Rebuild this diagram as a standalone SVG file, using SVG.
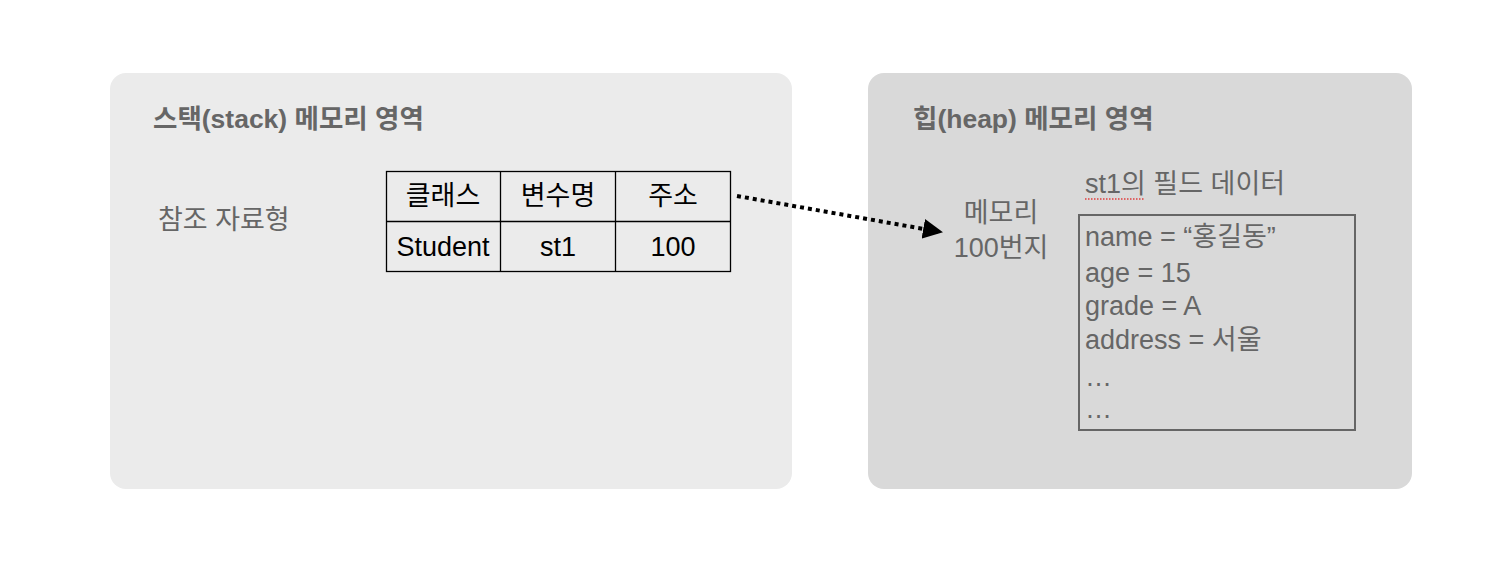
<svg xmlns="http://www.w3.org/2000/svg" width="1512" height="562" viewBox="0 0 1512 562">
<defs>
<style>
text{font-family:"Liberation Sans","Noto Sans CJK KR",sans-serif;font-size:27px}
.g{fill:#666666}
.t{font-weight:bold;fill:#666666;font-size:26.5px}
.k{fill:#000000}
.c{text-anchor:middle}
.cell{fill:none;stroke:#000000;stroke-width:1.3}
</style>
<marker id="ah" viewBox="0 0 10 10" refX="9" refY="5" markerWidth="5" markerHeight="5" orient="auto" markerUnits="strokeWidth">
<path d="M0,0 L10,5 L0,10 Z" fill="#000000"/>
</marker>
</defs>
<rect width="1512" height="562" fill="#ffffff"/>
<g id="stack">
<rect x="110" y="73" width="682" height="416" rx="16" fill="#ebebeb"/>
<text class="t" x="153" y="128">스택(stack) 메모리 영역</text>
<text class="g" x="158" y="229" font-size="26.5">참조 자료형</text>
</g>
<g id="table">
<rect class="cell" x="386.5" y="171.5" width="344" height="100"/>
<line class="cell" x1="386.5" y1="221.5" x2="730.5" y2="221.5"/>
<line class="cell" x1="500.5" y1="171.5" x2="500.5" y2="271.5"/>
<line class="cell" x1="615.5" y1="171.5" x2="615.5" y2="271.5"/>
<text class="k c" x="443" y="205">클래스</text>
<text class="k c" x="558" y="205">변수명</text>
<text class="k c" x="673" y="205">주소</text>
<text class="k c" x="443" y="256">Student</text>
<text class="k c" x="558" y="256">st1</text>
<text class="k c" x="673" y="256">100</text>
</g>
<g id="heap">
<rect x="868" y="73" width="544" height="416" rx="16" fill="#d9d9d9"/>
<text class="t" x="913" y="128">힙(heap) 메모리 영역</text>
<text class="g c" x="1001" y="222">메모리</text>
<text class="g c" x="1001" y="257">100번지</text>
</g>
<g id="fields">
<text class="g" x="1085" y="193">st1의 필드 데이터</text>
<line x1="1085" y1="199" x2="1145" y2="199" stroke="#e03c3c" stroke-width="1.5" stroke-dasharray="1.5 1.5"/>
<rect x="1079" y="215" width="276" height="215" fill="none" stroke="#666666" stroke-width="2"/>
<text class="g" x="1085" y="246">name = “홍길동”</text>
<text class="g" x="1085" y="282">age = 15</text>
<text class="g" x="1085" y="315">grade = A</text>
<text class="g" x="1085" y="349">address = 서울</text>
<text class="g" x="1085" y="386">…</text>
<text class="g" x="1085" y="418">…</text>
</g>
<g id="connectors">
<line x1="737" y1="196" x2="941" y2="232" stroke="#000000" stroke-width="4" stroke-dasharray="4 4" marker-end="url(#ah)"/>
</g>
</svg>
